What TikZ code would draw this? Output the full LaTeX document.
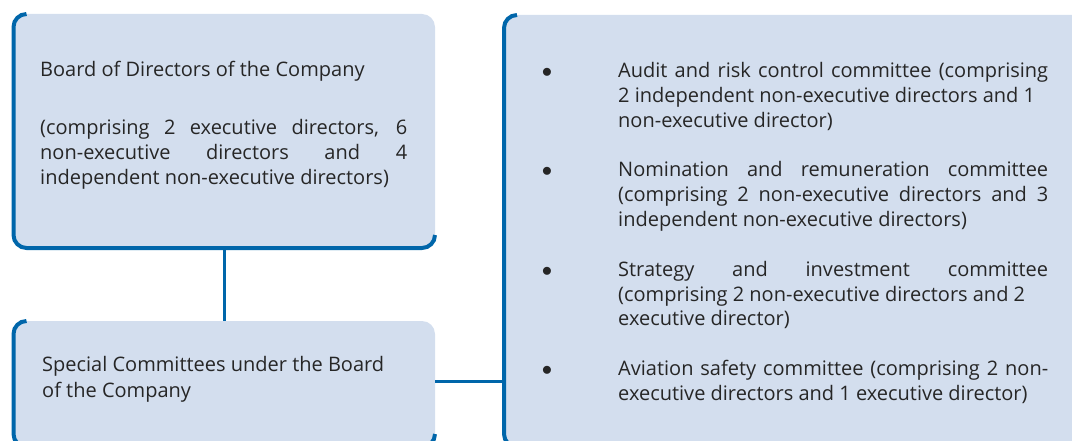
\documentclass[tikz,border=0pt]{standalone}
\usepackage{fontspec}
\setmainfont{Open Sans}
\usetikzlibrary{positioning}
\definecolor{panelfill}{RGB}{211,222,238}
\definecolor{rimblue}{RGB}{0,102,170}
\tikzset{
    panel/.style={
           rectangle,
           fill=panelfill,
           rounded corners=13pt,
           inner sep=0pt, outer sep=0pt,
           },
    rim/.style={draw=rimblue, line width=4pt, rounded corners=13pt},
    link/.style={draw=rimblue, line width=3pt},
    paneltext/.style={
           inner sep=0pt,
           text=black!85,
           font=\fontsize{20}{24.8}\selectfont,
           },
}
% blue rim on the left and bottom side of a panel
\newcommand{\panelrim}[1]{%
  \draw[rim] ([xshift=13pt]#1.north west) -- (#1.north west)
    -- (#1.south west) -- (#1.south east) -- ([yshift=13pt]#1.south east);}

\begin{document}
\begin{tikzpicture}[x=1pt,y=-1pt]
 \useasboundingbox (0,0) rectangle (1072,441);
 \clip (0,0) rectangle (1072,441);

 % the three panels
 \node[panel, minimum width=421.5pt, minimum height=234pt] (board) at (224.25,131) {};
 \node[panel, minimum width=421.5pt, minimum height=126pt] (special) at (224.25,384) {};
 \node[panel, minimum width=586pt, minimum height=432pt] (committees) at (797,231) {};
 \panelrim{board}
 \panelrim{special}
 \panelrim{committees}

 % panel contents
 \node[paneltext, text width=367pt, align=justify,
  below right=47pt and 26.5pt of board.north west] (board text)
 {Board of Directors of the Company\\[33.3pt]
  (comprising 2 executive directors, 6\linebreak
  non-executive directors and 4\linebreak
  independent non-executive directors)};

 \node[paneltext, align=left,
  below right=35pt and 28.5pt of special.north west] (special text)
 {Special Committees under the Board\\[1.5pt]of the Company};

 \node[paneltext, text width=508pt, align=justify,
  below right=37.5pt and 36pt of committees.north west] (committee list)
 {\begin{list}{$\bullet$}{\setlength\leftmargin{78pt}\setlength\labelwidth{12pt}%
    \setlength\labelsep{66pt}\setlength\itemsep{25pt}%
    \setlength\parsep{0pt}\setlength\topsep{0pt}\setlength\partopsep{0pt}}
   \item Audit and risk control committee (comprising\linebreak
    2 independent non-executive directors and 1\newline
    non-executive director)
   \item Nomination and remuneration committee\linebreak
    (comprising 2 non-executive directors and 3\linebreak
    independent non-executive directors)
   \item Strategy and investment committee\linebreak
    (comprising 2 non-executive directors and 2\newline
    executive director)
   \item Aviation safety committee (comprising 2 non-\linebreak
    executive directors and 1 executive director)
  \end{list}};

 % connectors
 \coordinate (tap) at ([yshift=3pt]special.east);
 \draw[link] (board.south) -- (special.north);
 \draw[link] (tap) -- (tap -| committees.west);

\end{tikzpicture}
\end{document}
